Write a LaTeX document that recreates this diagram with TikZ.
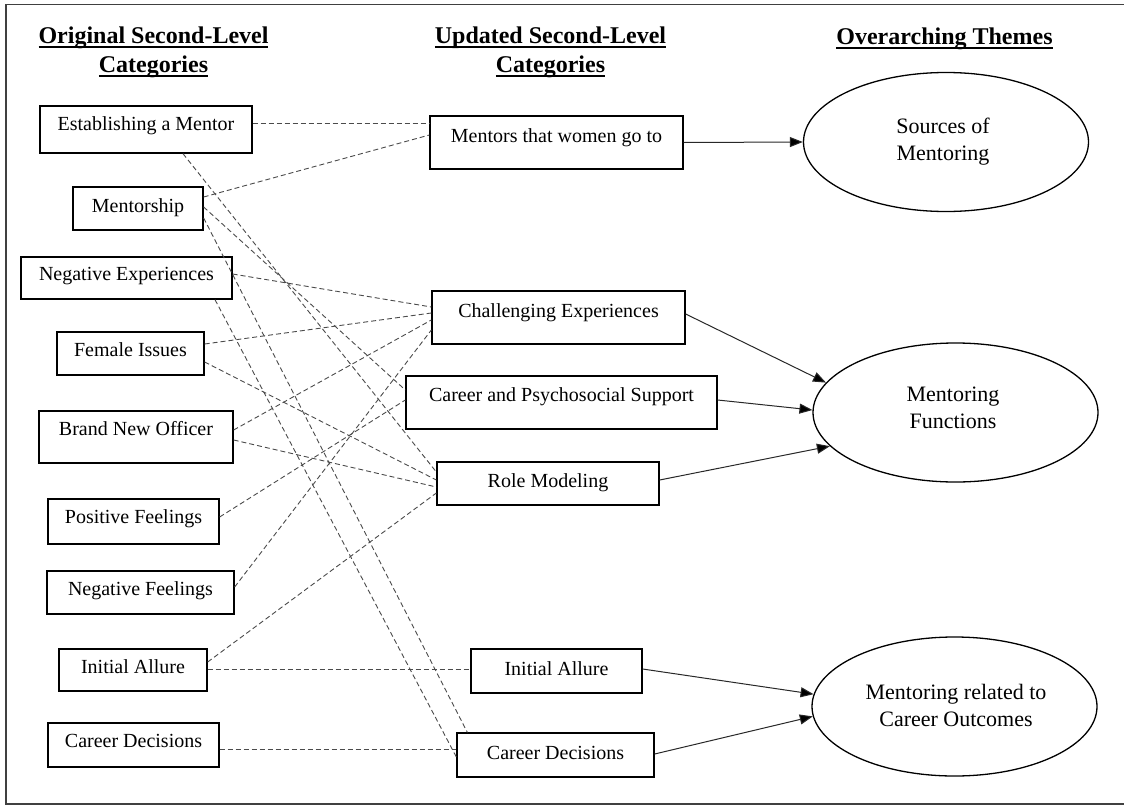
\documentclass[tikz,border=0pt]{standalone}
\usepackage{fontspec}
\setmainfont{Liberation Serif}
\usetikzlibrary{shapes.geometric,arrows.meta}
\newsavebox\hulbox
\newcommand\hul[1]{\sbox\hulbox{#1}\rlap{\rule[-5pt]{\wd\hulbox}{1.7pt}}\usebox\hulbox}
\definecolor{dashgray}{RGB}{75,75,75}
\definecolor{arrgray}{RGB}{40,40,40}
\begin{document}
\begin{tikzpicture}[x=1pt,y=-1pt,
  box/.style={draw=black, line width=1.3pt, inner sep=0pt, text height=14pt,
    font=\fontsize{20pt}{24pt}\selectfont},
  bx/.style n args={3}{minimum width=#1, minimum height=#2, text depth=#3},
  ell/.style={draw=black, ellipse, line width=1.3pt, inner sep=0pt,
    minimum width=285pt, minimum height=139pt},
  elltext/.style={align=center, inner sep=0pt, font=\fontsize{22pt}{27pt}\selectfont},
  hdr/.style={anchor=base, inner sep=0pt, font=\fontsize{24pt}{29pt}\selectfont\bfseries},
  dl/.style={draw=dashgray, line width=0.9pt, dash pattern=on 5pt off 3pt},
  al/.style={draw=arrgray, line width=1pt, -{Triangle[length=13pt,width=10pt,fill=black]}}
]
\useasboundingbox (0,0) rectangle (1124,806);
\fill[white] (0,0) rectangle (1124,806);
\draw[line width=1.2pt, black!75] (1124,4.5) -- (6,4.5) -- (6,804) -- (1124,804);

% headers
\node[hdr] (h1a) at (153.5,43) {\hul{Original Second-Level}};
\node[hdr] (h1b) at (153.5,72) {\hul{Categories}};
\node[hdr] (h2a) at (550.5,43) {\hul{Updated Second-Level}};
\node[hdr] (h2b) at (550.5,72) {\hul{Categories}};
\node[hdr] (h3a) at (944.5,44) {\hul{Overarching Themes}};

% left column
\node[box, bx={212pt}{47pt}{13pt}] (estab) at (146,129.5) {Establishing a Mentor};
\node[box, bx={130pt}{43pt}{7pt}] (mship) at (138,208.5) {Mentorship};
\node[box, bx={211pt}{42pt}{10pt}] (negexp) at (126.5,278) {Negative Experiences};
\node[box, bx={147pt}{43pt}{9pt}] (female) at (130.5,353.5) {Female Issues};
\node[box, bx={194pt}{52pt}{18pt}] (brand) at (136,437) {Brand New Officer};
\node[box, bx={171pt}{45pt}{11pt}] (positive) at (133.5,521.5) {Positive Feelings};
\node[box, bx={187pt}{43pt}{9pt}] (negfeel) at (140.5,592.5) {Negative Feelings};
\node[box, bx={148pt}{42pt}{8pt}] (ialeft) at (133,670) {Initial Allure};
\node[box, bx={171pt}{44pt}{10pt}] (cdleft) at (133.5,745) {Career Decisions};

% middle column
\node[box, bx={253pt}{53pt}{15pt}] (mentors) at (556.5,142.5) {Mentors that women go to};
\node[box, bx={253pt}{53pt}{15pt}] (chall) at (558.5,317.5) {Challenging Experiences};
\node[box, bx={311pt}{53pt}{17pt}] (cps) at (561.5,402.5) {Career and Psychosocial Support};
\node[box, bx={222pt}{43pt}{7pt}] (role) at (548,483.5) {Role Modeling};
\node[box, bx={171pt}{44pt}{6pt}] (iaright) at (556.5,671) {Initial Allure};
\node[box, bx={197pt}{44pt}{6pt}] (cdright) at (555.5,755) {Career Decisions};

% right column
\node[ell] (sources) at (946,142) {};
\node[elltext] (sourcest) at (943,142) {Sources of\\Mentoring};
\node[ell] (mf) at (955.5,412.5) {};
\node[elltext] (mft) at (953,407.5) {Mentoring\\Functions};
\node[ell] (co) at (954.5,706.5) {};
\node[elltext] (cot) at (956,705) {Mentoring related to\\Career Outcomes};

% dashed links
\draw[dl] ([yshift=6.5pt]estab.east) -- ([yshift=19.5pt]mentors.west);
\draw[dl] ([yshift=11.5pt]mship.east) -- ([yshift=7.5pt]mentors.west);
\draw[dl] ([yshift=1.5pt]mship.east) -- ([yshift=12.5pt]cps.west);
\draw[dl] ([xshift=37pt]estab.south) -- ([yshift=11.5pt]role.west);
\draw[dl] ([yshift=-9.5pt]mship.east) -- ([xshift=11pt]cdright.north west);
\draw[dl] ([xshift=88.5pt]negexp.south) -- ([yshift=-2pt]cdright.west);
\draw[dl] ([yshift=4pt]negexp.east) -- ([yshift=10.5pt]chall.west);
\draw[dl] ([yshift=9.5pt]female.east) -- ([yshift=4.5pt]chall.west);
\draw[dl] ([yshift=-8.5pt]female.east) -- ([yshift=3.5pt]role.west);
\draw[dl] ([yshift=7pt]brand.east) -- ([yshift=-2.5pt]chall.west);
\draw[dl] ([yshift=-3pt]brand.east) -- ([yshift=-3.5pt]role.west);
\draw[dl] ([yshift=4.5pt]positive.east) -- ([yshift=2.5pt]cps.west);
\draw[dl] ([yshift=5.5pt]negfeel.east) -- ([yshift=-12.5pt]chall.west);
\draw[dl] ([yshift=8pt]ialeft.east) -- ([yshift=-9.5pt]role.west);
\draw[dl] ([yshift=1pt]ialeft.east) -- ([yshift=2pt]iaright.west);
\draw[dl] ([yshift=-4pt]cdleft.east) -- ([yshift=6pt]cdright.west);

% solid arrows
\draw[al] (mentors.east) -- (sources.west);
\draw[al] ([yshift=3.5pt]chall.east) -- (mf.167);
\draw[al] ([yshift=2.5pt]cps.east) -- (mf.179);
\draw[al] ([yshift=3.5pt]role.east) -- (mf.195);
\draw[al] ([yshift=2pt]iaright.east) -- (co.175);
\draw[al] ([yshift=1pt]cdright.east) -- (co.184);
\end{tikzpicture}
\end{document}
